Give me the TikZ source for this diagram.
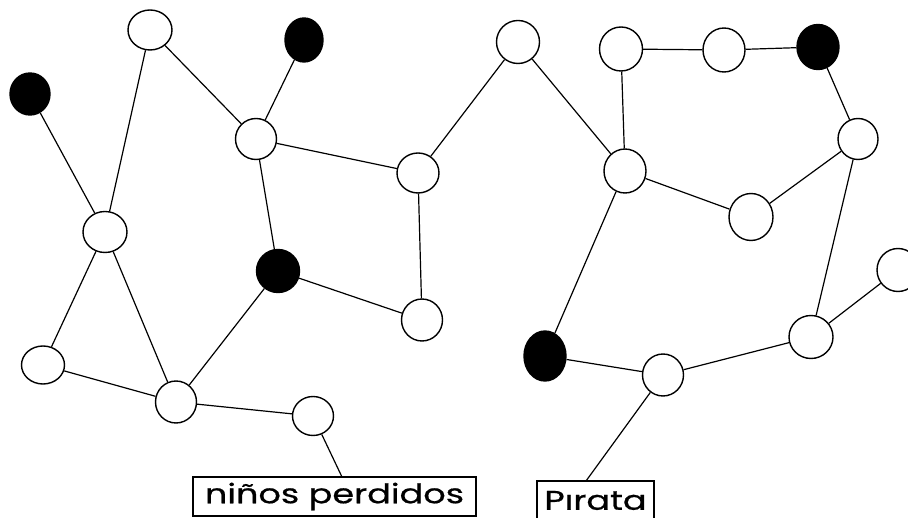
\documentclass[tikz,border=0pt]{standalone}
\usepackage{fontspec}
\setmainfont{Poppins}
\newfontfamily\lblfont[FakeBold=0.6]{Poppins}
\usetikzlibrary{shapes.geometric}
\tikzset{
  vtx/.style={ellipse, draw=black, line width=1.4pt, fill=white, inner sep=0pt},
  blk/.style={vtx, fill=black},
  edge/.style={draw=black, line width=1.2pt},
  lbl/.style={draw=black, line width=1.3pt, inner sep=0pt, font=\lblfont\fontsize{27}{27}\selectfont}
}
\newcommand{\vnode}[6]{\node[#1, minimum width=#5pt, minimum height=#6pt] (#2) at (#3,#4) {};}
\begin{document}
\begin{tikzpicture}[x=1pt,y=-1pt]
\useasboundingbox[fill=white] (0,0) rectangle (908,518);
\vnode{blk}{A}{30}{94}{40}{42}
\vnode{vtx}{B}{150}{30}{44}{40}
\vnode{blk}{C}{304}{40}{38}{44}
\vnode{vtx}{D}{256}{139}{41}{41}
\vnode{vtx}{E}{418}{173}{42}{40}
\vnode{vtx}{F}{105}{232}{44}{41}
\vnode{blk}{G}{278}{271}{43}{43}
\vnode{vtx}{H}{422}{320}{41}{42}
\vnode{vtx}{I}{43}{365}{43}{38}
\vnode{vtx}{J}{176}{402}{41}{42}
\vnode{vtx}{K}{313}{416}{41}{39}
\vnode{blk}{L}{545}{356}{42}{50}
\vnode{vtx}{M}{663}{375}{41}{42}
\vnode{vtx}{N}{811}{337}{44}{43}
\vnode{vtx}{O}{898}{270}{42}{43}
\vnode{vtx}{P}{518}{42}{43}{43}
\vnode{vtx}{Q}{621}{49}{43}{44}
\vnode{vtx}{R}{724}{50}{42}{44}
\vnode{blk}{S}{818}{47}{42}{45}
\vnode{vtx}{T}{858}{139}{40}{41}
\vnode{vtx}{U}{625}{171}{42}{44}
\vnode{vtx}{V}{751}{217}{44}{47}
\node[lbl, minimum width=283pt, minimum height=39pt] (nl) at (334.5,496.5) {\scalebox{1.3}[1]{niños perdidos}};
\node[lbl, minimum width=117pt, minimum height=39pt] (pl) at (595.5,500.5) {\scalebox{1.3}[1]{Pırata}};
\coordinate (kl) at (342,477);
\coordinate (ml) at (586,481);
\draw[edge] (A) -- (F);
\draw[edge] (B) -- (F);
\draw[edge] (B) -- (D);
\draw[edge] (C) -- (D);
\draw[edge] (D) -- (E);
\draw[edge] (D) -- (G);
\draw[edge] (E) -- (H);
\draw[edge] (G) -- (H);
\draw[edge] (G) -- (J);
\draw[edge] (F) -- (I);
\draw[edge] (F) -- (J);
\draw[edge] (I) -- (J);
\draw[edge] (J) -- (K);
\draw[edge] (K) -- (kl);
\draw[edge] (E) -- (P);
\draw[edge] (P) -- (U);
\draw[edge] (Q) -- (U);
\draw[edge] (Q) -- (R);
\draw[edge] (R) -- (S);
\draw[edge] (S) -- (T);
\draw[edge] (T) -- (V);
\draw[edge] (U) -- (V);
\draw[edge] (U) -- (L);
\draw[edge] (T) -- (N);
\draw[edge] (N) -- (O);
\draw[edge] (N) -- (M);
\draw[edge] (L) -- (M);
\draw[edge] (M) -- (ml);
\end{tikzpicture}
\end{document}
